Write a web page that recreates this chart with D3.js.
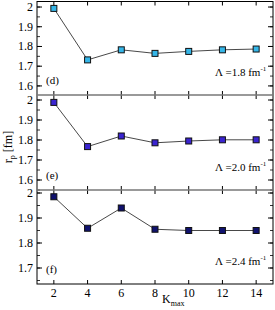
<!DOCTYPE html>
<html>
<head>
<meta charset="utf-8">
<script src="https://cdn.jsdelivr.net/npm/d3@7"></script>
<style>
  body { margin: 0; background: #fff; }
  svg text { font-family: "Liberation Serif", "DejaVu Serif", serif; fill: #000; }
</style>
</head>
<body>
<div id="chart"></div>
<script>
// Cutoff values K_max and the radius r_p [fm] for each Lambda
var kmax = [2, 4, 6, 8, 10, 12, 14];
var rp18 = [1.993, 1.732, 1.783, 1.765, 1.775, 1.783, 1.787];
var rp20 = [1.988, 1.767, 1.820, 1.786, 1.795, 1.801, 1.801];
var rp24 = [1.985, 1.859, 1.940, 1.855, 1.850, 1.850, 1.850];
var xTicks = [2, 4, 6, 8, 10, 12, 14];
var panelLabels = ["(d)", "(e)", "(f)"];
var lambdaLabels = ["1.8", "2.0", "2.4"];

var panels = [
    {values: rp18, color: "#35b6e8", domain: [1.554, 2.028], ticks: [1.6, 1.7, 1.8, 1.9, 2]},
    {values: rp20, color: "#3a24d0", domain: [1.55, 2.025], ticks: [1.6, 1.7, 1.8, 1.9, 2]},
    {values: rp24, color: "#10126e", domain: [1.636, 2.012], ticks: [1.7, 1.8, 1.9, 2]}
];

var width = 275, height = 310;
var left = 37, right = 273;
var tops = [1.5, 95, 190, 284];

var svg = d3.select("#chart").append("svg")
    .attr("width", width)
    .attr("height", height);

var x = d3.scaleLinear().domain([1, 15]).range([left, right]);

panels.forEach(function(p, i) {
    var y = d3.scaleLinear().domain(p.domain).range([tops[i + 1], tops[i]]);
    var g = svg.append("g").attr("class", "panel" + i);

    // minor ticks every 0.05
    var minor = d3.range(Math.ceil(p.domain[0] * 20), Math.floor(p.domain[1] * 20) + 1)
        .map(function(d) { return d / 20; });

    g.selectAll(".minorL").data(minor).enter().append("line")
        .attr("x1", left).attr("x2", left + 3)
        .attr("y1", function(d) { return y(d); }).attr("y2", function(d) { return y(d); })
        .attr("stroke", "#000").attr("stroke-width", 0.8);
    g.selectAll(".minorR").data(minor).enter().append("line")
        .attr("x1", right).attr("x2", right - 3)
        .attr("y1", function(d) { return y(d); }).attr("y2", function(d) { return y(d); })
        .attr("stroke", "#000").attr("stroke-width", 0.8);

    g.selectAll(".majorL").data(p.ticks).enter().append("line")
        .attr("x1", left).attr("x2", left + 5)
        .attr("y1", function(d) { return y(d); }).attr("y2", function(d) { return y(d); })
        .attr("stroke", "#000").attr("stroke-width", 1);
    g.selectAll(".majorR").data(p.ticks).enter().append("line")
        .attr("x1", right).attr("x2", right - 5)
        .attr("y1", function(d) { return y(d); }).attr("y2", function(d) { return y(d); })
        .attr("stroke", "#000").attr("stroke-width", 1);

    g.selectAll(".ylab").data(p.ticks).enter().append("text")
        .attr("x", left - 4)
        .attr("y", function(d) { return y(d) + 4; })
        .attr("text-anchor", "end")
        .attr("font-size", "12px")
        .text(function(d) { return d3.format("~g")(d); });

    // x ticks at top and bottom of each panel
    g.selectAll(".xtb").data(xTicks).enter().append("line")
        .attr("x1", function(d) { return x(d); }).attr("x2", function(d) { return x(d); })
        .attr("y1", tops[i + 1]).attr("y2", tops[i + 1] - 4)
        .attr("stroke", "#000").attr("stroke-width", 1);
    g.selectAll(".xtt").data(xTicks).enter().append("line")
        .attr("x1", function(d) { return x(d); }).attr("x2", function(d) { return x(d); })
        .attr("y1", tops[i]).attr("y2", tops[i] + 4)
        .attr("stroke", "#000").attr("stroke-width", 1);

    var line = d3.line()
        .x(function(d, j) { return x(kmax[j]); })
        .y(function(d) { return y(d); });

    g.append("path")
        .datum(p.values)
        .attr("d", line)
        .attr("fill", "none")
        .attr("stroke", "#333")
        .attr("stroke-width", 0.9);

    g.selectAll(".pt").data(p.values).enter().append("rect")
        .attr("x", function(d, j) { return x(kmax[j]) - 3; })
        .attr("y", function(d) { return y(d) - 3; })
        .attr("width", 6).attr("height", 6)
        .attr("fill", p.color)
        .attr("stroke", "#111")
        .attr("stroke-width", 1);

    g.append("text")
        .attr("x", 46)
        .attr("y", tops[i + 1] - 11)
        .attr("font-size", "11px")
        .text(panelLabels[i]);

    var lt = g.append("text")
        .attr("x", 215)
        .attr("y", tops[i + 1] - 19)
        .attr("font-size", "11px");
    lt.append("tspan").text("\u039B =" + lambdaLabels[i] + " fm");
    lt.append("tspan").attr("dy", -5).attr("font-size", "7px").text("-1");
});

// frame and panel separators
svg.append("rect")
    .attr("x", left).attr("y", tops[0])
    .attr("width", right - left).attr("height", tops[3] - tops[0])
    .attr("fill", "none").attr("stroke", "#000").attr("stroke-width", 1);
[tops[1], tops[2]].forEach(function(t) {
    svg.append("line")
        .attr("x1", left).attr("x2", right)
        .attr("y1", t).attr("y2", t)
        .attr("stroke", "#777").attr("stroke-width", 1.6);
});

// x tick labels
svg.selectAll(".xlab").data(xTicks).enter().append("text")
    .attr("x", function(d) { return x(d); })
    .attr("y", tops[3] + 13)
    .attr("text-anchor", "middle")
    .attr("font-size", "12px")
    .text(function(d) { return d; });

// axis titles
var xt = svg.append("text")
    .attr("x", 162)
    .attr("y", 303)
    .attr("font-size", "12px");
xt.append("tspan").text("K");
xt.append("tspan").attr("dy", 3).attr("font-size", "8px").text("max");

var yt = svg.append("text")
    .attr("transform", "translate(12,147) rotate(-90)")
    .attr("text-anchor", "middle")
    .attr("font-size", "12px");
yt.append("tspan").text("r");
yt.append("tspan").attr("dy", 3).attr("font-size", "8px").text("p");
yt.append("tspan").attr("dy", -3).text(" [fm]");
</script>
</body>
</html>
